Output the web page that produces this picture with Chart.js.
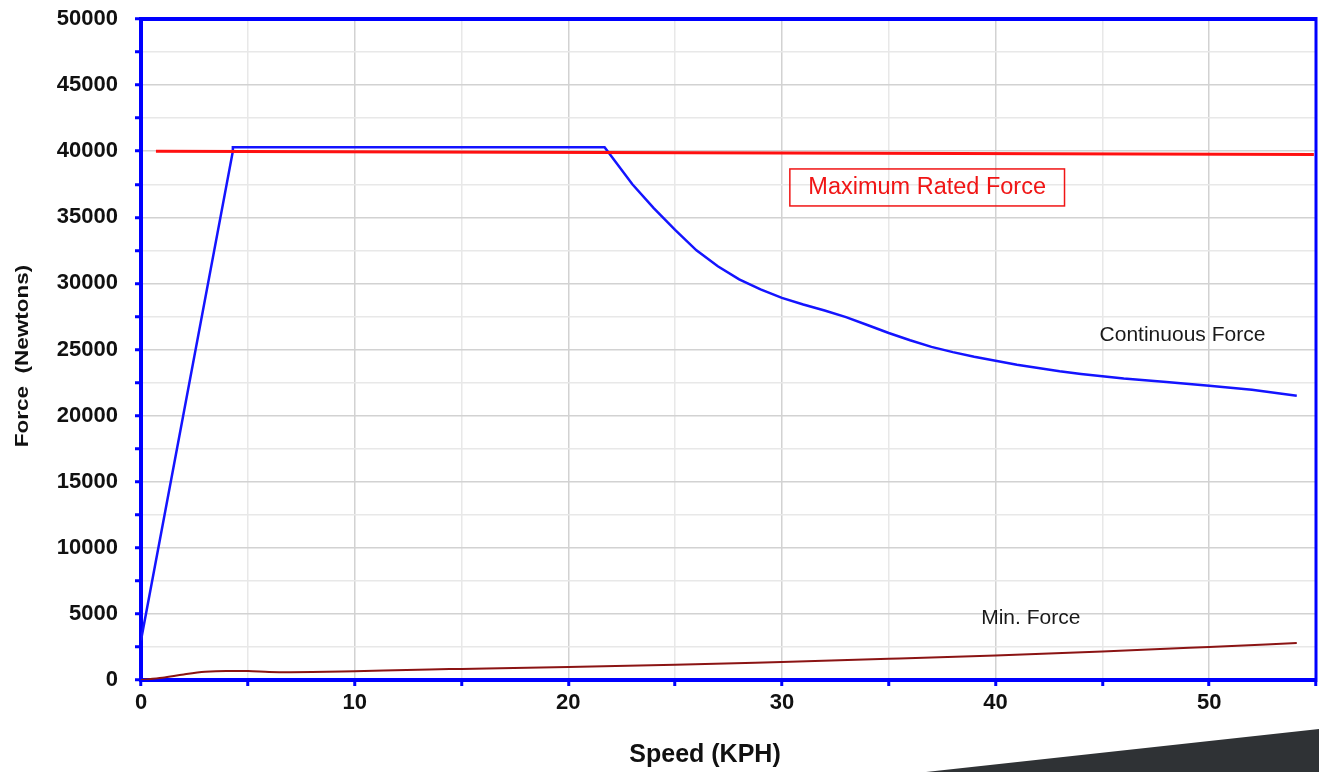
<!DOCTYPE html>
<html>
<head>
<meta charset="utf-8">
<script src="https://cdn.jsdelivr.net/npm/chart.js@4.4.1/dist/chart.umd.min.js"></script>
<style>
  html, body { margin: 0; padding: 0; background: #fff; overflow: hidden; }
  #wrap { position: relative; width: 1319px; height: 772px; }
  #corner {
    position: absolute; left: 0; top: 0; width: 1319px; height: 772px;
    background: #2f3235;
    clip-path: polygon(926px 772px, 1319px 729px, 1319px 772px);
    pointer-events: none;
  }
</style>
</head>
<body>
<div id="wrap">
  <canvas id="grafico" width="1319" height="772"></canvas>
  <div id="corner"></div>
</div>
<script>
// valores
const velContinua = [0, 4.3, 4.3, 21.7, 22, 23, 24, 25, 26, 27, 28, 29, 30, 31, 32, 33, 34, 35, 36, 37, 38, 39, 40, 41, 42, 43, 44, 46, 48, 50, 52, 54.1];
const forcaContinua = [3000, 40000, 40300, 40300, 39650, 37500, 35700, 34050, 32500, 31300, 30300, 29550, 28900, 28400, 27950, 27450, 26850, 26250, 25700, 25200, 24800, 24450, 24150, 23850, 23600, 23350, 23150, 22800, 22550, 22250, 21950, 21500];

const velMinima = [0, 1, 2, 3, 4, 5, 6, 7, 8, 10, 13.5, 15, 20, 25, 30, 35, 40, 45, 50, 54.1];
const forcaMinima = [0, 170, 420, 620, 690, 680, 610, 590, 600, 670, 800, 840, 980, 1150, 1370, 1600, 1850, 2150, 2500, 2800];

const velMaxima = [0.7, 54.9];
const forcaMaxima = [40000, 39750];

const ticksX = [0, 10, 20, 30, 40, 50];
const ticksY = [0, 5000, 10000, 15000, 20000, 25000, 30000, 35000, 40000, 45000, 50000];

const rotulos = [
    { texto: "Maximum Rated Force", x: 36.8, y: 37220, cor: "#f01515", tam: 23.5, caixa: true },
    { texto: "Continuous Force", x: 48.75, y: 26100, cor: "#1a1a1a", tam: 21 },
    { texto: "Min. Force", x: 41.65, y: 4690, cor: "#1a1a1a", tam: 21 }
];

const pontos = (xs, ys) => xs.map((v, i) => ({ x: v, y: ys[i] }));

const FONTE = "'Liberation Sans', Arial, sans-serif";

const decoracao = {
    id: 'decoracao',
    afterDraw(chart) {
        const { ctx, chartArea: a, scales } = chart;
        ctx.save();
        // moldura superior e direita
        ctx.strokeStyle = '#0000ff';
        ctx.lineWidth = 4;
        ctx.beginPath();
        ctx.moveTo(a.left, a.top);
        ctx.lineTo(a.right, a.top);
        ctx.stroke();
        ctx.lineWidth = 3;
        ctx.beginPath();
        ctx.moveTo(a.right, a.top - 2);
        ctx.lineTo(a.right, a.bottom + 2);
        ctx.stroke();

        // rótulos das séries
        rotulos.forEach(r => {
            const px = scales.x.getPixelForValue(r.x);
            const py = scales.y.getPixelForValue(r.y);
            ctx.font = `${r.tam}px ${FONTE}`;
            ctx.fillStyle = r.cor;
            ctx.textAlign = 'center';
            ctx.textBaseline = 'middle';
            ctx.fillText(r.texto, px, py);
            if (r.caixa) {
                const w = ctx.measureText(r.texto).width + 37;
                ctx.strokeStyle = r.cor;
                ctx.lineWidth = 1.5;
                ctx.strokeRect(px - w / 2, py - 19, w, 37);
            }
        });

        // títulos dos eixos
        ctx.fillStyle = '#111';
        ctx.font = `bold 25px ${FONTE}`;
        ctx.textAlign = 'center';
        ctx.textBaseline = 'middle';
        ctx.fillText('Speed (KPH)', 705, 755);
        ctx.translate(23, 356);
        ctx.rotate(-Math.PI / 2);
        ctx.scale(1, 0.85);
        ctx.font = `bold 22.5px ${FONTE}`;
        ctx.fillText('Force  (Newtons)', 0, 0);
        ctx.restore();
    }
};

const corGrade = (ctx, passoForte) => {
    const v = ctx.tick.value;
    return v % passoForte === 0 ? '#d2d2d2' : '#e8e8e8';
};

new Chart(document.getElementById('grafico').getContext('2d'), {
    type: 'line',
    data: {
        datasets: [
            {
                label: 'Maximum Rated Force',
                data: pontos(velMaxima, forcaMaxima),
                borderColor: '#ff1010',
                borderWidth: 3,
                pointRadius: 0
            },
            {
                label: 'Continuous Force',
                data: pontos(velContinua, forcaContinua),
                borderColor: '#1414ff',
                borderWidth: 2.5,
                pointRadius: 0,
                tension: 0
            },
            {
                label: 'Min. Force',
                data: pontos(velMinima, forcaMinima),
                borderColor: '#8b1414',
                borderWidth: 2,
                pointRadius: 0,
                cubicInterpolationMode: 'monotone'
            }
        ]
    },
    options: {
        responsive: false,
        maintainAspectRatio: false,
        animation: false,
        devicePixelRatio: 1,
        layout: { autoPadding: false, padding: { top: 19, right: 3, left: 0, bottom: 0 } },
        plugins: { legend: { display: false }, tooltip: { enabled: false } },
        scales: {
            x: {
                type: 'linear',
                min: 0,
                max: 55,
                afterFit: s => { s.height = 92; s.paddingLeft = 0; s.paddingRight = 0; },
                border: { color: '#0000ff', width: 4 },
                grid: {
                    color: c => corGrade(c, 10),
                    lineWidth: 1.5,
                    tickColor: '#0000ff',
                    tickWidth: 3,
                    tickLength: 6
                },
                ticks: {
                    stepSize: 5,
                    padding: 4,
                    color: '#111',
                    font: { family: FONTE, size: 22, weight: 'bold' },
                    maxRotation: 0,
                    callback: v => ticksX.includes(v) ? String(v) : ''
                }
            },
            y: {
                min: 0,
                max: 50000,
                afterFit: s => { s.width = 141; s.paddingTop = 0; s.paddingBottom = 0; },
                border: { color: '#0000ff', width: 4 },
                grid: {
                    color: c => corGrade(c, 5000),
                    lineWidth: 1.5,
                    tickColor: '#0000ff',
                    tickWidth: 3,
                    tickLength: 6
                },
                ticks: {
                    stepSize: 2500,
                    padding: 17,
                    color: '#111',
                    font: { family: FONTE, size: 22, weight: 'bold' },
                    callback: v => ticksY.includes(v) ? String(v) : ''
                }
            }
        }
    },
    plugins: [decoracao]
});
</script>
</body>
</html>
